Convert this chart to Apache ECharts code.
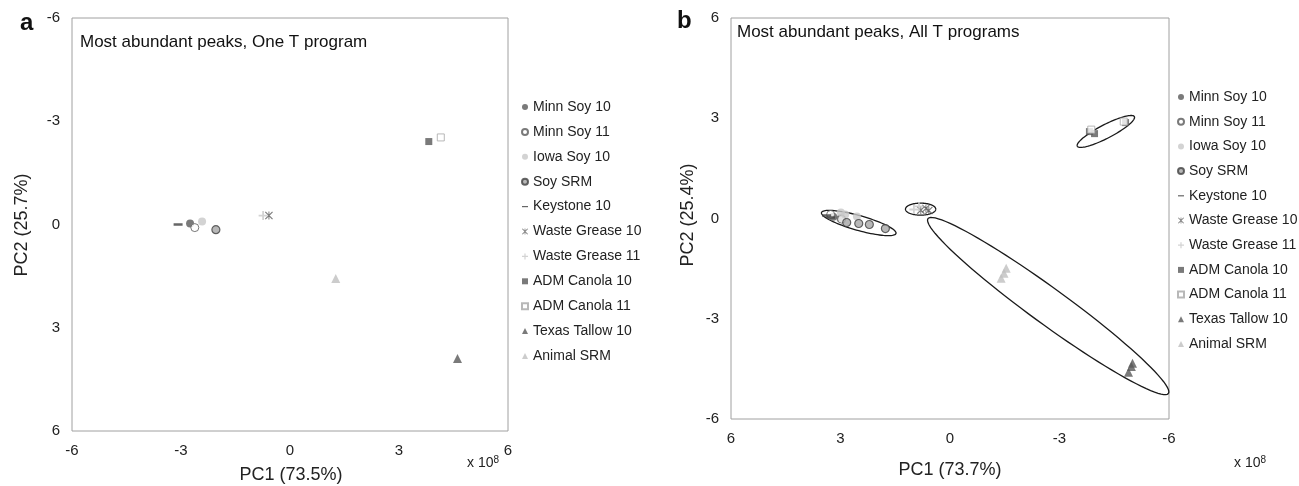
<!DOCTYPE html>
<html><head><meta charset="utf-8">
<script src="https://cdn.jsdelivr.net/npm/echarts@6/dist/echarts.min.js"></script>
<style>html,body{margin:0;padding:0;background:#fff}#c{width:1299px;height:486px}</style>
</head><body><div id="c"></div>
<script>
// ---- categories ----
const seriesNames = ['Minn Soy 10','Minn Soy 11','Iowa Soy 10','Soy SRM','Keystone 10','Waste Grease 10','Waste Grease 11','ADM Canola 10','ADM Canola 11','Texas Tallow 10','Animal SRM'];
// ---- axis ticks ----
const ticks = [-6, -3, 0, 3, 6];
// ---- panel a values [PC1, PC2] (x 10^8) ----
const aMinnSoy10 = [[-2.75, -0.03]];
const aMinnSoy11 = [[-2.62, 0.09]];
const aIowaSoy10 = [[-2.42, -0.09]];
const aSoySRM = [[-2.04, 0.15]];
const aKeystone10 = [[-3.08, 0.0]];
const aWasteGrease10 = [[-0.58, -0.26]];
const aWasteGrease11 = [[-0.74, -0.26]];
const aADMCanola10 = [[3.82, -2.41]];
const aADMCanola11 = [[4.15, -2.53]];
const aTexasTallow10 = [[4.61, 3.89]];
const aAnimalSRM = [[1.26, 1.57]];
// ---- panel b values [PC1, PC2] (x 10^8) ----
const bMinnSoy10 = [[3.2, 0.05], [3.0, 0.0]];
const bMinnSoy11 = [[3.27, 0.12], [2.97, -0.02]];
const bIowaSoy10 = [[2.99, 0.18], [2.87, 0.12], [2.55, 0.06]];
const bSoySRM = [[2.83, -0.12], [2.5, -0.15], [2.21, -0.18], [1.77, -0.3]];
const bKeystone10 = [[3.38, 0.09], [3.27, 0.03]];
const bWasteGrease10 = [[0.8, 0.25], [0.58, 0.24], [0.66, 0.3]];
const bWasteGrease11 = [[0.99, 0.27], [0.85, 0.36]];
const bADMCanola10 = [[-3.82, 2.6], [-3.96, 2.54], [-4.81, 2.87]];
const bADMCanola11 = [[-3.87, 2.66], [-4.76, 2.9]];
const bTexasTallow10 = [[-5.0, -4.33], [-4.97, -4.43], [-4.89, -4.6]];
const bAnimalSRM = [[-1.54, -1.49], [-1.48, -1.64], [-1.4, -1.79]];
// ---- panel b group ellipses: [x1, y1, x2, y2, semiMinor] (major-axis tips, data units) ----
const bEllipses = [
  [3.52, 0.18, 1.48, -0.45, 0.22],
  [1.22, 0.28, 0.39, 0.28, 0.18],
  [-3.49, 2.16, -5.05, 3.05, 0.2],
  [0.6, 0.0, -5.98, -5.24, 0.52]
];

const aData = [aMinnSoy10,aMinnSoy11,aIowaSoy10,aSoySRM,aKeystone10,aWasteGrease10,aWasteGrease11,aADMCanola10,aADMCanola11,aTexasTallow10,aAnimalSRM];
const bData = [bMinnSoy10,bMinnSoy11,bIowaSoy10,bSoySRM,bKeystone10,bWasteGrease10,bWasteGrease11,bADMCanola10,bADMCanola11,bTexasTallow10,bAnimalSRM];

const DASH = 'path://M0,0H10V2H0Z';
const PLUS = 'path://M4,0H6V4H10V6H6V10H4V6H0V4H4Z';
const STAR = 'path://M0,1L1,0L10,9L9,10ZM9,0L10,1L1,10L0,9ZM4.4,0H5.6V10H4.4Z';
const styles = [
  {symbol:'circle', symbolSize:8, itemStyle:{color:'#595959'}},
  {symbol:'circle', symbolSize:8, itemStyle:{color:'#fff', borderColor:'#595959', borderWidth:1}},
  {symbol:'circle', symbolSize:8, itemStyle:{color:'#c8c8c8'}},
  {symbol:'circle', symbolSize:8, itemStyle:{color:'#a6a6a6', borderColor:'#404040', borderWidth:1.2}},
  {symbol:DASH, symbolSize:[9,2.5], itemStyle:{color:'#404040'}},
  {symbol:STAR, symbolSize:8, itemStyle:{color:'#595959'}},
  {symbol:PLUS, symbolSize:9, itemStyle:{color:'#c8c8c8'}},
  {symbol:'rect', symbolSize:7, itemStyle:{color:'#595959'}},
  {symbol:'rect', symbolSize:7, itemStyle:{color:'#fff', borderColor:'#a6a6a6', borderWidth:1}},
  {symbol:'triangle', symbolSize:9, itemStyle:{color:'#595959'}},
  {symbol:'triangle', symbolSize:9, itemStyle:{color:'#bfbfbf'}}
];

const FONT = 'Liberation Sans, Arial, sans-serif';
const series = [];
seriesNames.forEach((n, i) => {
  series.push(Object.assign({type:'scatter', name:n, xAxisIndex:0, yAxisIndex:0, data:aData[i], z:3}, styles[i]));
});
seriesNames.forEach((n, i) => {
  series.push(Object.assign({type:'scatter', name:n, xAxisIndex:1, yAxisIndex:1, data:bData[i], z:3}, styles[i]));
});
series.push({
  type:'custom', xAxisIndex:1, yAxisIndex:1, silent:true, z:2,
  encode:{x:[0,2], y:[1,3]},
  data:bEllipses,
  renderItem:function(params, api){
    const x1=api.value(0), y1=api.value(1), x2=api.value(2), y2=api.value(3), b=api.value(4);
    const cx=(x1+x2)/2, cy=(y1+y2)/2;
    const dx=x2-x1, dy=y2-y1, L=Math.hypot(dx,dy), a=L/2;
    const ux=dx/L, uy=dy/L, vx=-uy, vy=ux;
    const pts=[];
    for(let k=0;k<=96;k++){
      const t=k/96*Math.PI*2;
      const px=cx+a*Math.cos(t)*ux+b*Math.sin(t)*vx;
      const py=cy+a*Math.cos(t)*uy+b*Math.sin(t)*vy;
      pts.push(api.coord([px,py]));
    }
    return {type:'polyline', shape:{points:pts}, style:{fill:null, stroke:'#1a1a1a', lineWidth:1.3}};
  }
});

function axis(grid, inverse){
  return {
    gridIndex:grid, inverse:inverse,
    min:ticks[0], max:ticks[ticks.length-1], interval:ticks[1]-ticks[0],
    axisLine:{show:false}, axisTick:{show:false}, splitLine:{show:false},
    axisLabel:{color:'#222', fontSize:15, fontFamily:FONT, margin:12}
  };
}
const legendCommon = {
  orient:'vertical', data:seriesNames, itemWidth:6, itemHeight:6, padding:0,
  textStyle:{color:'#222', fontSize:14, fontFamily:FONT, lineHeight:16},
  selectedMode:false
};

const option = {
  animation:false,
  backgroundColor:'#fff',
  grid:[
    {left:72, top:18, width:436, height:413, show:true, borderColor:'#a0a0a0', borderWidth:1, backgroundColor:'transparent'},
    {left:731, top:18, width:438, height:401, show:true, borderColor:'#a0a0a0', borderWidth:1, backgroundColor:'transparent'}
  ],
  xAxis:[ axis(0, false), axis(1, true) ],
  yAxis:[ axis(0, true), axis(1, false) ],
  legend:[
    Object.assign({left:521, top:99, itemGap:8.9}, legendCommon),
    Object.assign({left:1177, top:89, itemGap:8.7}, legendCommon)
  ],
  graphic:[
    {type:'text', x:20, y:23.6, style:{text:'a', font:'bold 24px '+FONT, fill:'#111', verticalAlign:'middle'}},
    {type:'text', x:677, y:21.6, style:{text:'b', font:'bold 24px '+FONT, fill:'#111', verticalAlign:'middle'}},
    {type:'text', left:80, top:34, style:{text:'Most abundant peaks, One T program', font:'17px '+FONT, fill:'#111'}},
    {type:'text', left:737, top:24, style:{text:'Most abundant peaks, All T programs', font:'17px '+FONT, fill:'#111'}},
    {type:'text', x:291, y:475, style:{text:'PC1 (73.5%)', font:'18px '+FONT, fill:'#222', align:'center', verticalAlign:'middle'}},
    {type:'text', x:950, y:470, style:{text:'PC1 (73.7%)', font:'18px '+FONT, fill:'#222', align:'center', verticalAlign:'middle'}},
    {type:'text', x:22, y:225, rotation:Math.PI/2, style:{text:'PC2 (25.7%)', font:'18px '+FONT, fill:'#222', align:'center', verticalAlign:'middle'}},
    {type:'text', x:688, y:215, rotation:Math.PI/2, style:{text:'PC2 (25.4%)', font:'18px '+FONT, fill:'#222', align:'center', verticalAlign:'middle'}},
    {type:'text', x:467, y:455, style:{text:'x 10{s|8}', font:'14px '+FONT, fill:'#222', rich:{s:{fontSize:10, verticalAlign:'top', padding:[0,0,6,0]}}}},
    {type:'text', x:1234, y:455, style:{text:'x 10{s|8}', font:'14px '+FONT, fill:'#222', rich:{s:{fontSize:10, verticalAlign:'top', padding:[0,0,6,0]}}}}
  ],
  series:series
};
const chart = echarts.init(document.getElementById('c'), null, {renderer:'canvas'});
chart.setOption(option);
</script></body></html>
